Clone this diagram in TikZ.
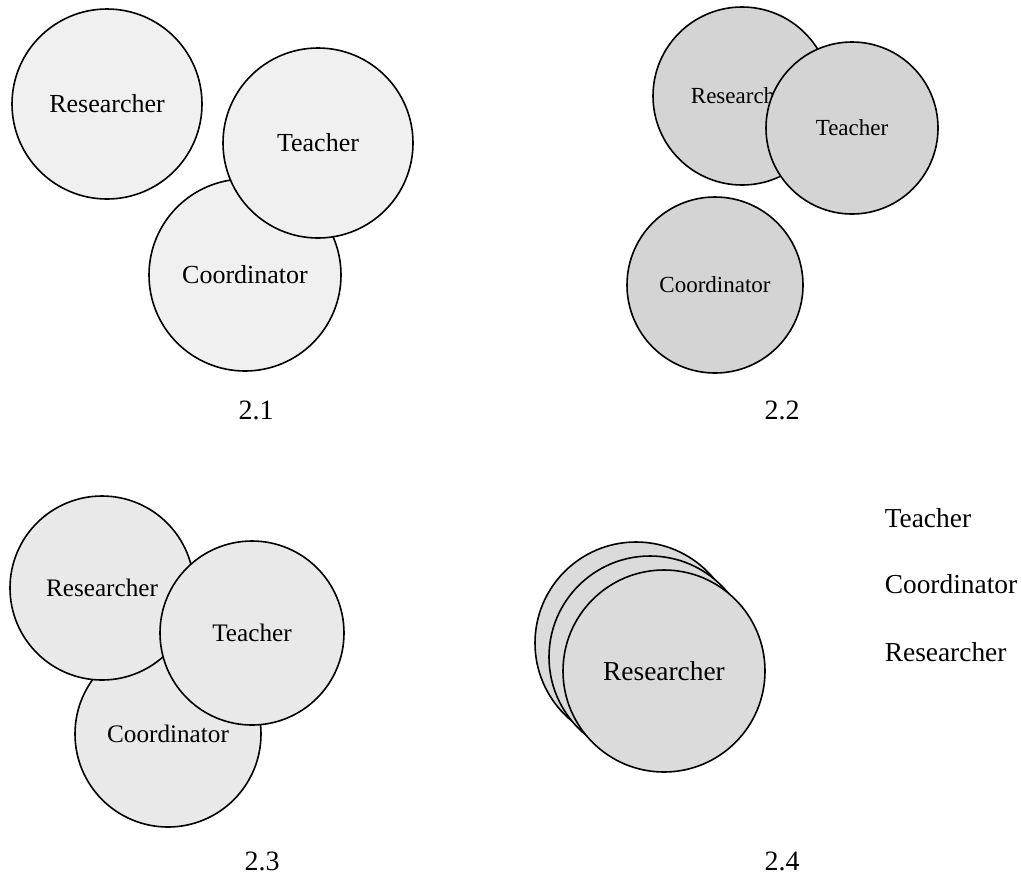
\documentclass[tikz,border=0pt]{standalone}
\usepackage{fontspec}
\setmainfont{Liberation Serif}
\begin{document}
\begin{tikzpicture}[x=0.5pt, y=-0.5pt, thick,
        role/.style = {draw, circle, inner sep=0pt},
        paleA/.style = {fill=gray!12},
        paleB/.style = {fill=gray!34},
        paleC/.style = {fill=gray!17},
        paleD/.style = {fill=gray!28},
        caption/.style = {font=\fontsize{14}{16}\selectfont},
        key/.style = {anchor=west, inner sep=0pt, font=\fontsize{13.7}{16}\selectfont}]
        \useasboundingbox (0,0) rectangle (1022,879);
        % 2.1
        \begin{scope}[every node/.append style={font=\fontsize{13}{15}\selectfont}]
        \node[role, paleA, minimum size=95pt] (res1) at (107,104) {Researcher};
        \node[role, paleA, minimum size=96pt] (coo1) at (245,275) {Coordinator};
        \node[role, paleA, minimum size=95pt] (tea1) at (318,143) {Teacher};
        \end{scope}
        \node[caption] (cap1) at (256,410) {2.1};
        % 2.2
        \begin{scope}[every node/.append style={font=\fontsize{11.5}{14}\selectfont}]
        \node[role, paleB, minimum size=88pt] (coo2) at (715,285) {Coordinator};
        \node[role, paleB, minimum size=89pt] (res2) at (742,96) {Researcher};
        \node[role, paleB, minimum size=86pt] (tea2) at (852,128) {Teacher};
        \end{scope}
        \node[caption] (cap2) at (782,410) {2.2};
        % 2.3
        \begin{scope}[every node/.append style={font=\fontsize{12.6}{15}\selectfont}]
        \node[role, paleC, minimum size=93pt] (coo3) at (168,734) {Coordinator};
        \node[role, paleC, minimum size=92pt] (res3) at (102,588) {Researcher};
        \node[role, paleC, minimum size=92pt] (tea3) at (252,633) {Teacher};
        \end{scope}
        \node[caption] (cap3) at (262,861) {2.3};
        % 2.4
        \node[role, paleD, minimum size=101pt] (tea4) at (636,643) {};
        \node[role, paleD, minimum size=101pt] (coo4) at (650,657) {};
        \node[role, paleD, minimum size=101pt, font=\fontsize{13.7}{16}\selectfont] (res4) at (664,671) {Researcher};
        \node[caption] (cap4) at (782,861) {2.4};
        % legend
        \node[key] (keyt) at (884,518) {Teacher};
        \node[key] (keyc) at (884,584) {Coordinator};
        \node[key] (keyr) at (884,652) {Researcher};
    \end{tikzpicture}
\end{document}
